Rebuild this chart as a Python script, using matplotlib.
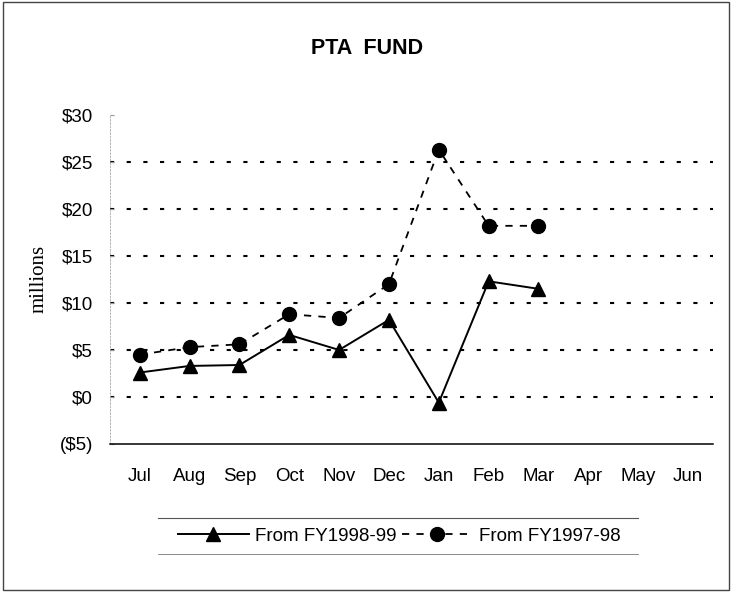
import matplotlib
matplotlib.use('Agg')
from matplotlib import pyplot as plt
from matplotlib.lines import Line2D
from matplotlib.patches import Rectangle
from matplotlib.ticker import FuncFormatter

plt.rcParams['font.family'] = ['Liberation Sans', 'DejaVu Sans']

months = ['Jul', 'Aug', 'Sep', 'Oct', 'Nov', 'Dec', 'Jan', 'Feb', 'Mar', 'Apr', 'May', 'Jun']
fy9899 = [2.6, 3.3, 3.4, 6.6, 5.0, 8.2, -0.6, 12.3, 11.5]
fy9798 = [4.5, 5.3, 5.6, 8.8, 8.4, 12.0, 26.3, 18.2, 18.2]
y_ticks = [-5, 0, 5, 10, 15, 20, 25, 30]
grid_levels = [0, 5, 10, 15, 20, 25]

fig = plt.figure(figsize=(7.32, 5.92), dpi=100)
ax = fig.add_axes([0.150, 0.25, 0.824, 0.556])

# 虚线网格
for g in grid_levels:
    ax.axhline(g, color='black', lw=1.5, ls=(0, (2, 6)), zorder=1)

ax.plot(range(len(fy9899)), fy9899, color='black', lw=1.4, marker='^', ms=10,
        label='From FY1998-99', zorder=3)
ax.plot(range(len(fy9798)), fy9798, color='black', lw=1.3, ls=(0, (4, 4)), marker='o', ms=10,
        label='From FY1997-98', zorder=3)

ax.set_xlim(-0.6, 11.5)
ax.set_ylim(-5, 30)
ax.set_xticks(range(len(months)))
ax.set_xticklabels(months, fontsize=13.5)
ax.set_yticks(y_ticks)
ax.yaxis.set_major_formatter(FuncFormatter(lambda v, p: f'(${-int(v)})' if v < 0 else f'${int(v)}'))
ax.tick_params(axis='y', labelsize=13.5, direction='in', length=3, color='#999999', pad=12)
ax.tick_params(axis='x', length=0, pad=17)

for s in ['top', 'right']:
    ax.spines[s].set_visible(False)
ax.spines['left'].set_color('#aaaaaa')
ax.spines['left'].set_linewidth(0.6)
ax.spines['left'].set_linestyle((0, (2, 2)))
ax.spines['bottom'].set_linewidth(1.1)

ax.set_ylabel('millions', family='Liberation Serif', fontsize=15, labelpad=8)
fig.text(0.501, 0.918, 'PTA  FUND', ha='center', va='center', fontsize=15.5, fontweight='bold')

fig.legend(loc='center', bbox_to_anchor=(0.545, 0.094), ncol=2, frameon=False, fontsize=13.5,
           handlelength=3.8, columnspacing=0.3, handletextpad=0.3)

# 图例上下的线和外框
fig.add_artist(Line2D([0.216, 0.872], [0.125, 0.125], color='#555555', lw=0.8))
fig.add_artist(Line2D([0.216, 0.872], [0.064, 0.064], color='#777777', lw=0.6))
fig.add_artist(Rectangle((0.004, 0.004), 0.992, 0.992, fill=False, edgecolor='#444444', lw=1.0,
                         transform=fig.transFigure))

plt.savefig('out.png', dpi=100)
